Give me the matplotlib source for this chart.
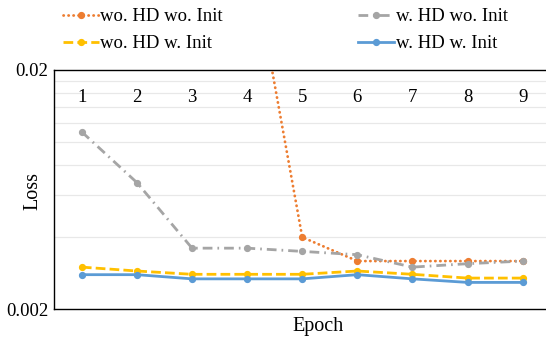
import matplotlib
matplotlib.use("Agg")
import matplotlib.pyplot as plt
from matplotlib.ticker import FixedLocator, NullFormatter, NullLocator

plt.rcParams['font.family'] = ['Liberation Serif', 'DejaVu Serif']

epochs = [1, 2, 3, 4, 5, 6, 7, 8, 9]
epoch_labels = ["1", "2", "3", "4", "5", "6", "7", "8", "9"]
wo_hd_wo_init = [0.30, 0.20, 0.12, 0.075, 0.0040, 0.00318, 0.00318, 0.00318, 0.00318]
w_hd_wo_init = [0.0110, 0.00676, 0.0036, 0.0036, 0.00349, 0.00338, 0.0030, 0.0031, 0.00318]
wo_hd_w_init = [0.0030, 0.00289, 0.0028, 0.0028, 0.0028, 0.00289, 0.0028, 0.0027, 0.0027]
w_hd_w_init = [0.00279, 0.00279, 0.00268, 0.00268, 0.00268, 0.00279, 0.00268, 0.00259, 0.00259]
series_names = ["wo. HD wo. Init", "w. HD wo. Init", "wo. HD w. Init", "w. HD w. Init"]
y_ticks = [0.002, 0.02]
y_tick_labels = ["0.002", "0.02"]
y_grid = [0.004, 0.006, 0.008, 0.010, 0.012, 0.014, 0.016, 0.018]

W, H = 546, 339
fig = plt.figure(figsize=(W / 100, H / 100), dpi=100)
left, right, top, bottom = 54.3, 550.2, 69.8, 309.3
ax = fig.add_axes([left / W, 1 - bottom / H, (right - left) / W, (bottom - top) / H])

ax.set_yscale('log')
ax.set_ylim(0.002, 0.02)
ax.set_xlim(0.5, 9.5)

for g in y_grid:
    ax.axhline(g, color='#E8E8E8', lw=0.9, zorder=0)

lw = 2.0
ms = 4.2
l1, = ax.plot(epochs, wo_hd_wo_init, color='#ED7D31', lw=lw, linestyle=(0, (0.1, 1.7)),
              dash_capstyle='round', marker='o', ms=ms, label=series_names[0], zorder=3)
l2, = ax.plot(epochs, w_hd_wo_init, color='#A5A5A5', lw=lw, linestyle=(0, (3.5, 1.8, 0.6, 1.8)),
              marker='o', ms=ms, label=series_names[1], zorder=4)
l3, = ax.plot(epochs, wo_hd_w_init, color='#FFC000', lw=lw, linestyle=(0, (3.5, 1.5)),
              marker='o', ms=ms, label=series_names[2], zorder=5)
l4, = ax.plot(epochs, w_hd_w_init, color='#5B9BD5', lw=lw, linestyle='-',
              marker='o', ms=ms, label=series_names[3], zorder=6)

fs = 13.5
ax.yaxis.set_major_locator(FixedLocator(y_ticks))
ax.set_yticklabels(y_tick_labels)
ax.yaxis.set_minor_locator(NullLocator())
ax.yaxis.set_minor_formatter(NullFormatter())
ax.tick_params(axis='y', length=0, pad=4.3, labelsize=fs)
ax.xaxis.set_major_locator(NullLocator())
ax.xaxis.set_minor_locator(NullLocator())

for x, lab in zip(epochs, epoch_labels):
    ax.text(x, 0.866, lab, transform=ax.get_xaxis_transform(), ha='center', va='baseline',
            fontsize=fs, zorder=2)

for s in ['left', 'top', 'bottom']:
    ax.spines[s].set_color('black')
    ax.spines[s].set_linewidth(1.0)
ax.spines['right'].set_visible(False)

fig.text(318 / W, 1 - 327 / H, "Epoch", ha='center', va='center', fontsize=14.5)
fig.text(33 / W, 1 - 191 / H, "Loss", ha='center', va='center', rotation=90, fontsize=14.5)

common = dict(ncol=1, loc='upper left', frameon=False, fontsize=fs, borderpad=0,
              borderaxespad=0, handlelength=1.9, handletextpad=0.1, labelspacing=0.53)
leg1 = fig.legend(handles=[l1, l3], bbox_to_anchor=(63 / W, 1 - 8 / H), **common)
leg2 = fig.legend(handles=[l2, l4], bbox_to_anchor=(358 / W, 1 - 8 / H), **common)

fig.savefig("out.png", dpi=100)
